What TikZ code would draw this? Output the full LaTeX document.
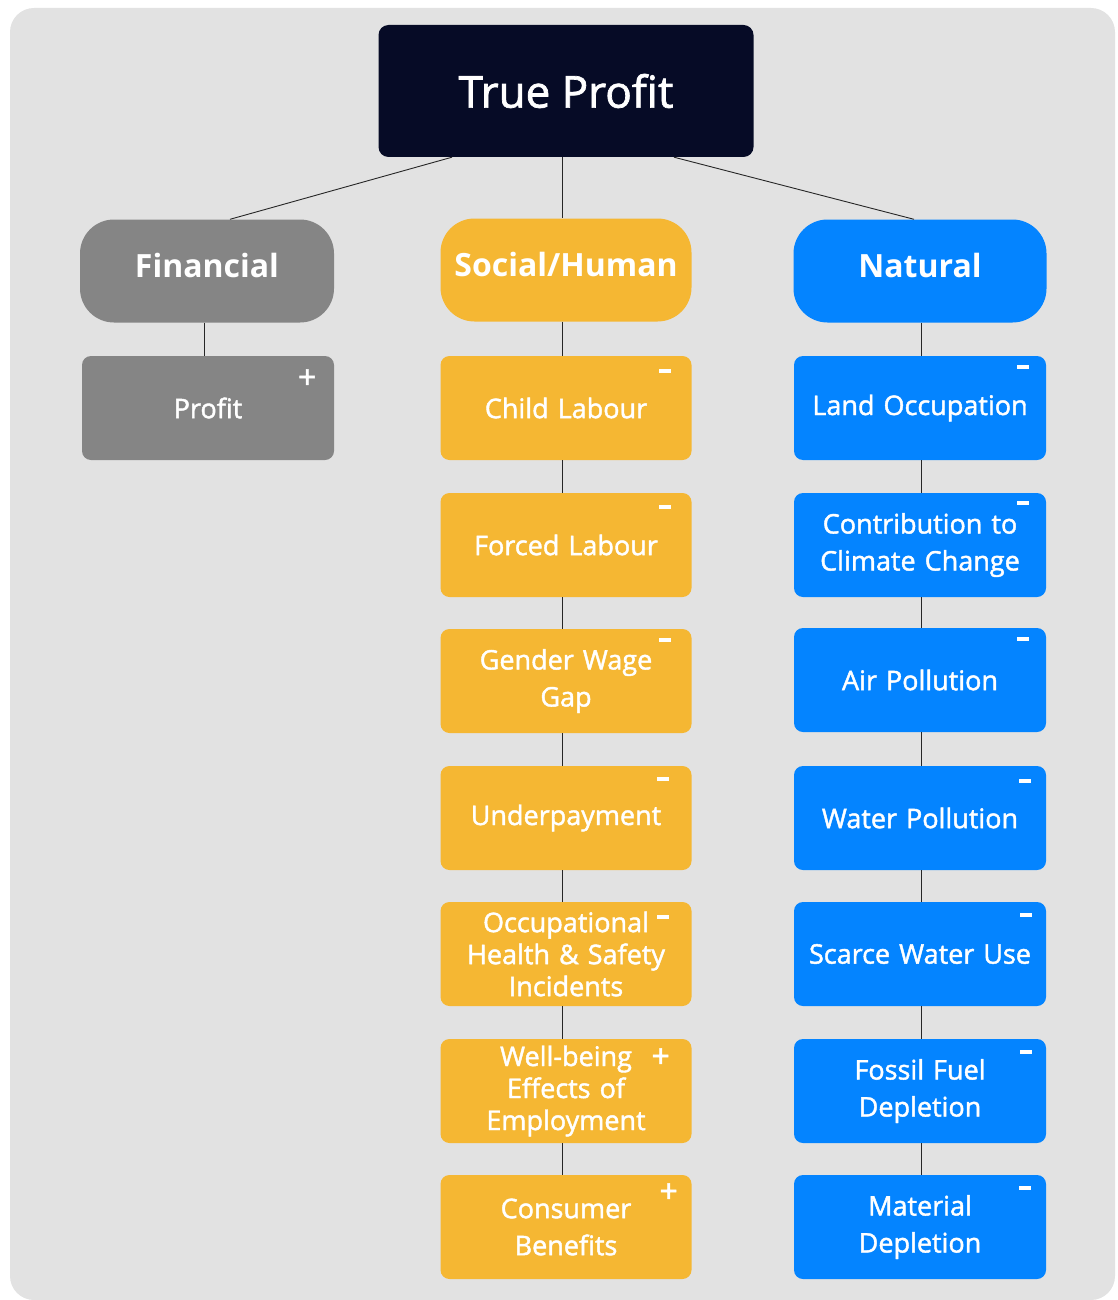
\documentclass[tikz,border=0pt]{standalone}
\usepackage{fontspec}
\setmainfont{Open Sans}
\newfontfamily\semifont[FakeBold=1.6]{Open Sans}
\usepackage{tikz}
\usetikzlibrary{positioning,calc}

\definecolor{tpnavy}{HTML}{060B26}
\definecolor{fingray}{HTML}{858585}
\definecolor{socyellow}{HTML}{F5B733}
\definecolor{natblue}{HTML}{0484FF}
\definecolor{bggray}{HTML}{E2E2E2}

\begin{document}
\begin{tikzpicture}[
    x=1pt, y=-1pt,
    top/.style={rectangle, fill=tpnavy, rounded corners=10pt, minimum width=375pt, minimum height=132pt, text=white, font=\semifont\fontsize{44}{50}\selectfont},
    head/.style={rectangle, rounded corners=34pt, minimum width=254pt, minimum height=103pt, text depth=12pt, text=white, font=\fontsize{32}{36}\selectfont\bfseries},
    item/.style={rectangle, rounded corners=9pt, minimum width=252pt, minimum height=104pt, text width=240pt, align=center, text=white, font=\semifont\fontsize{27}{37}\selectfont},
    tight/.style={font=\semifont\fontsize{27}{32}\selectfont},
    plus/.style={text=white, inner sep=0pt, font=\semifont\fontsize{32}{32}\selectfont},
    minus/.style={fill=white, inner sep=0pt, minimum width=12pt, minimum height=3.5pt},
    link/.style={draw=black!85, line width=0.9pt}
]
    \useasboundingbox (0,0) rectangle (1117,1300);
    \fill[bggray, rounded corners=24pt] (10,8) rectangle (1115,1300);

    % Row 0: root
    \node (tp) at (566,91) [top] {True Profit};

    % Row 1: capitals
    \node (fin) at (207,271) [head, fill=fingray] {Financial};
    \node (soc) at (566,270) [head, fill=socyellow, minimum width=251pt] {Social/Human};
    \node (nat) at (920,271) [head, fill=natblue, minimum width=253pt] {Natural};

    % Financial column
    \node (prof) at (208,408) [item, fill=fingray] {Profit};

    % Social/Human column
    \node (child) at (566,408) [item, fill=socyellow, minimum width=251pt] {Child Labour};
    \node (forced) at (566,545) [item, fill=socyellow, minimum width=251pt] {Forced Labour};
    \node (gender) at (566,681) [item, fill=socyellow, minimum width=251pt] {Gender Wage\\Gap};
    \node (under) at (566,818) [item, fill=socyellow, minimum width=251pt] {Underpayment};
    \node (ohs) at (566,954) [item, tight, fill=socyellow, minimum width=251pt] {Occupational\\Health \& Safety\\Incidents};
    \node (well) at (566,1091) [item, tight, fill=socyellow, minimum width=251pt] {Well-being\\Effects of\\Employment};
    \node (cons) at (566,1227) [item, fill=socyellow, minimum width=251pt] {Consumer\\Benefits};

    % Natural column
    \node (land) at (920,408) [item, fill=natblue] {Land Occupation};
    \node (clim) at (920,545) [item, fill=natblue] {Contribution to\\Climate Change};
    \node (air) at (920,680) [item, fill=natblue] {Air Pollution};
    \node (water) at (920,818) [item, fill=natblue] {Water Pollution};
    \node (scarce) at (920,954) [item, fill=natblue] {Scarce Water Use};
    \node (fossil) at (920,1091) [item, fill=natblue] {Fossil Fuel\\Depletion};
    \node (mat) at (920,1227) [item, fill=natblue] {Material\\Depletion};

    % Signs
    \node (prof-s) at ($(prof.north east)+(-27,23)$) [plus] {+};
    \node (child-s) at ($(child.north east)+(-27,15)$) [minus] {};
    \node (forced-s) at ($(forced.north east)+(-27,14)$) [minus] {};
    \node (gender-s) at ($(gender.north east)+(-27,11)$) [minus] {};
    \node (under-s) at ($(under.north east)+(-29,13)$) [minus] {};
    \node (ohs-s) at ($(ohs.north east)+(-29,15)$) [minus] {};
    \node (well-s) at ($(well.north east)+(-31,19)$) [plus] {+};
    \node (cons-s) at ($(cons.north east)+(-23,18)$) [plus] {+};
    \node (land-s) at ($(land.north east)+(-23,11)$) [minus] {};
    \node (clim-s) at ($(clim.north east)+(-23,10)$) [minus] {};
    \node (air-s) at ($(air.north east)+(-23,11)$) [minus] {};
    \node (water-s) at ($(water.north east)+(-21,15)$) [minus] {};
    \node (scarce-s) at ($(scarce.north east)+(-20,13)$) [minus] {};
    \node (fossil-s) at ($(fossil.north east)+(-20,13)$) [minus] {};
    \node (mat-s) at ($(mat.north east)+(-21,13)$) [minus] {};

    % Tree links
    \draw [link] ([xshift=-114pt]tp.south) -- ([xshift=23pt]fin.north);
    \draw [link] ([xshift=-4pt]tp.south) -- ([xshift=-4pt]soc.north);
    \draw [link] ([xshift=108pt]tp.south) -- ([xshift=-6pt]nat.north);
    \draw [link] ([xshift=-3pt]fin.south) -- ([xshift=-4pt]prof.north);
    \draw [link] ([xshift=-4pt]soc.south) -- ([xshift=-4pt]child.north);
    \draw [link] ([xshift=-4pt]child.south) -- ([xshift=-4pt]forced.north);
    \draw [link] ([xshift=-4pt]forced.south) -- ([xshift=-4pt]gender.north);
    \draw [link] ([xshift=-4pt]gender.south) -- ([xshift=-4pt]under.north);
    \draw [link] ([xshift=-4pt]under.south) -- ([xshift=-4pt]ohs.north);
    \draw [link] ([xshift=-4pt]ohs.south) -- ([xshift=-4pt]well.north);
    \draw [link] ([xshift=-4pt]well.south) -- ([xshift=-4pt]cons.north);
    \draw [link] ([xshift=1pt]nat.south) -- ([xshift=1pt]land.north);
    \draw [link] ([xshift=1pt]land.south) -- ([xshift=1pt]clim.north);
    \draw [link] ([xshift=1pt]clim.south) -- ([xshift=1pt]air.north);
    \draw [link] ([xshift=1pt]air.south) -- ([xshift=1pt]water.north);
    \draw [link] ([xshift=1pt]water.south) -- ([xshift=1pt]scarce.north);
    \draw [link] ([xshift=1pt]scarce.south) -- ([xshift=1pt]fossil.north);
    \draw [link] ([xshift=1pt]fossil.south) -- ([xshift=1pt]mat.north);
\end{tikzpicture}
\end{document}
